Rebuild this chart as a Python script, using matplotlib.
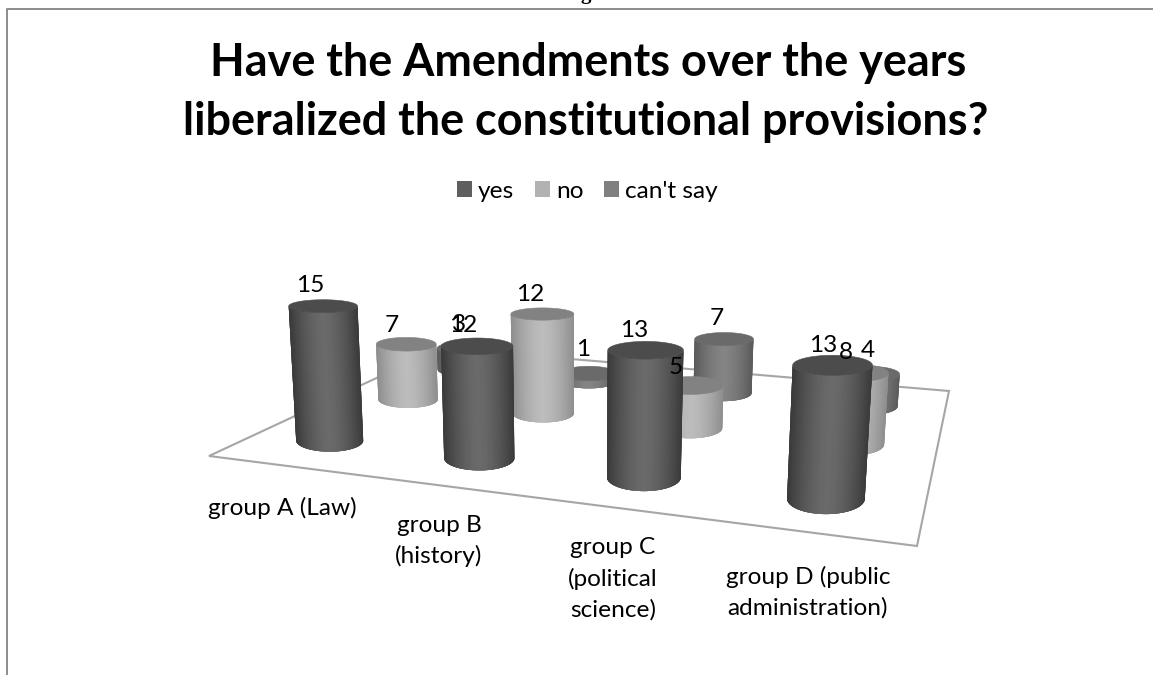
import numpy as np
import matplotlib
matplotlib.use('Agg')
import matplotlib.pyplot as plt
from matplotlib.collections import PolyCollection
from matplotlib.patches import Patch, Polygon

# Values per group
groups = ['group A (Law)', 'group B\n(history)', 'group C\n(political\nscience)',
          'group D (public\nadministration)']
series = ['yes', 'no', "can't say"]
yes = [15, 12, 13, 13]
no = [7, 12, 5, 8]
cant_say = [3, 1, 7, 4]
title_lines = ['Have the Amendments over the years', 'liberalized the constitutional provisions?']

# Colours: cylinder edge, cylinder middle, lid
colors = {'yes': ('#3a3a3a', '#6a6a6a', '#4c4c4c'),
          'no': ('#8e8e8e', '#bcbcbc', '#828282'),
          "can't say": ('#5a5a5a', '#848484', '#6a6a6a')}
legend_colors = ['#5f5f5f', '#b2b2b2', '#808080']

# Floor plate corners on the canvas, and where the verticals converge
floor_corners = [(209, 456), (917, 546), (949, 391), (441, 348)]
floor_units = [(0, 0), (4, 0), (4, 3), (0, 3)]
vanish = np.array([577.0, 5500.0, 1.0])
height_k = -0.00180
row_pos = [0.5, 1.5, 2.4]
radius_k = 35.0
horizon_y = 137.0
flatness_k = 910.0

# Shift of each value label from its cylinder's lid
label_nudge = {'yes': [(-13, -21), (-14, -21), (-11, -20), (-9, -20)],
               'no': [(-14, -19), (-12, -20), (-15, -18), (-8, -20)],
               "can't say": [(-5, -24), (-6, -24), (-7, -21), (-1, -24)]}


def floor_matrix():
    a, b = [], []
    for (u, v), (x, y) in zip(floor_units, floor_corners):
        a.append([u, v, 1, 0, 0, 0, -u * x, -v * x])
        a.append([0, 0, 0, u, v, 1, -u * y, -v * y])
        b += [x, y]
    return np.append(np.linalg.solve(np.array(a, float), np.array(b, float)), 1).reshape(3, 3)


H = floor_matrix()


def project(u, v, h=0.0):
    # floor position plus height, gives canvas x, y and the local size factor
    q = H @ np.array([u, v, 1.0]) + vanish * height_k * h
    return q[0] / q[2], q[1] / q[2], 1.0 / q[2]


def ring(u, v, h, t):
    x, y, size = project(u, v, h)
    rx = radius_k * size
    ry = rx * (y - horizon_y) / flatness_k
    return x + rx * np.cos(t), y + ry * np.sin(t)


def cylinder(ax, u, v, value, name):
    edge, mid, lid = [np.array(matplotlib.colors.to_rgb(c)) for c in colors[name]]
    t = np.linspace(0, np.pi, 91)
    bx, by = ring(u, v, 0, t)
    tx, ty = ring(u, v, value, t)
    quads, shades = [], []
    # each strip runs under the next one so no seams show
    for i in range(len(t) - 1):
        j = min(i + 4, len(t) - 1)
        quads.append(list(zip(bx[i:j + 1], by[i:j + 1])) + list(zip(tx[i:j + 1][::-1], ty[i:j + 1][::-1])))
        s = abs(np.cos((t[i] + t[i + 1]) / 2)) ** 1.6
        shades.append(mid * (1 - s) + edge * s)
    ax.add_collection(PolyCollection(quads, facecolors=shades, edgecolors='none', linewidths=0))
    full = np.linspace(0, 2 * np.pi, 121)
    lx, ly = ring(u, v, value, full)
    ax.add_patch(Polygon(np.column_stack([lx, ly]), closed=True, facecolor=lid, edgecolor=lid, linewidth=0.4))


fig = plt.figure(figsize=(11.53, 6.75), dpi=100)
ax = fig.add_axes([0, 0, 1, 1])
ax.set_xlim(0, 1153)
ax.set_ylim(675, 0)
ax.axis('off')

# Frame around the chart and the heading cut off above it
ax.plot([1153, 6.5, 6.5], [8.5, 8.5, 675], color='#8c8c8c', lw=1.4, solid_capstyle='butt')
ax.text(586, -1, 'g', family='Liberation Serif', weight='bold', fontsize=15, ha='center', va='baseline')

for line, x, y in zip(title_lines, [588, 586], [76, 135]):
    ax.text(x, y, line, family='Lato', weight='bold', fontsize=32.4, ha='center', va='baseline')

# Floor
ax.add_patch(Polygon(floor_corners, closed=True, facecolor='white', edgecolor='#a6a6a6', linewidth=1.5))

# Cylinders from the back row to the front row
values = {'yes': yes, 'no': no, "can't say": cant_say}
for r in [2, 1, 0]:
    name = series[r]
    for g in range(4):
        cylinder(ax, g + 0.5, row_pos[r], values[name][g], name)

for r in [2, 1, 0]:
    name = series[r]
    for g in range(4):
        x, y, _ = project(g + 0.5, row_pos[r], values[name][g])
        dx, dy = label_nudge[name][g]
        ax.text(x + dx, y + dy, str(values[name][g]), family='Lato', fontsize=17.6, ha='center', va='center',
                color='black')

label_pos = [(282, 508), (439, 541), (613, 579), (808, 592)]
for text, (x, y) in zip(groups, label_pos):
    ax.text(x, y, text, family='Lato', fontsize=17.6, ha='center', va='center', linespacing=1.53)

handles = [Patch(facecolor=c, edgecolor='none') for c in legend_colors]
ax.legend(handles, series, loc='center', bbox_to_anchor=(587.5 / 1153, 1 - 191 / 675), ncol=3, frameon=False,
          prop={'family': 'Lato', 'size': 17.6}, handlelength=0.61, handleheight=0.61, handletextpad=0.25,
          columnspacing=0.85)

fig.savefig('out.png', dpi=100)
